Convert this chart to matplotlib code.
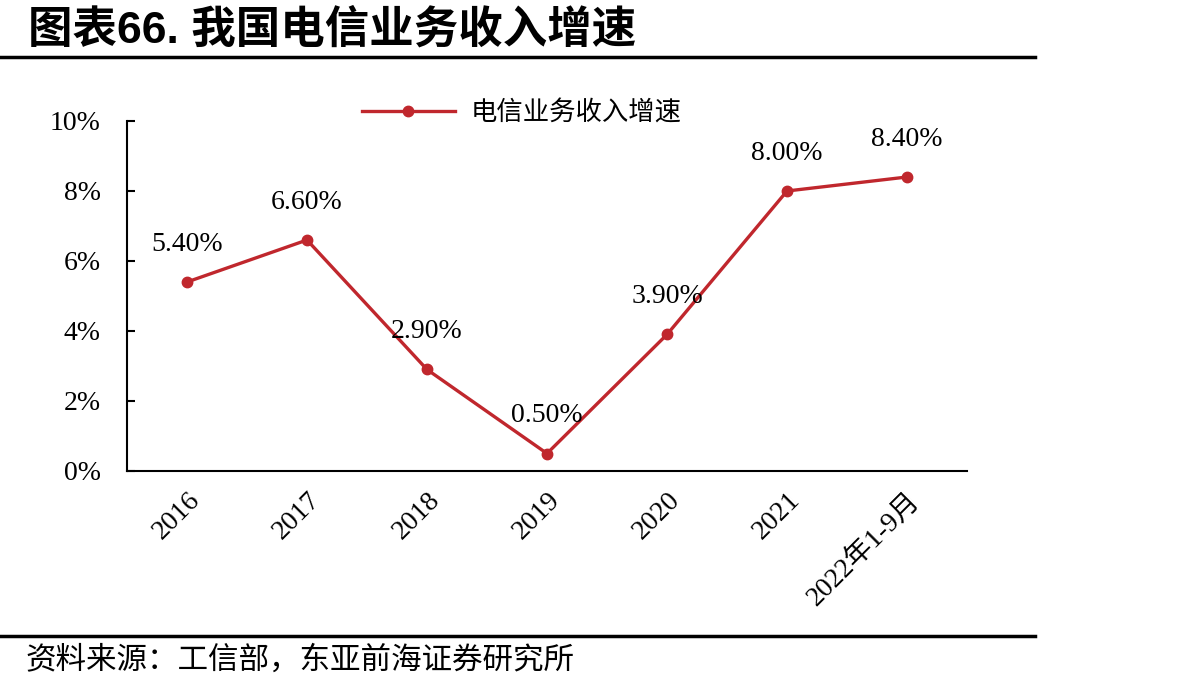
import matplotlib
matplotlib.use("Agg")
import matplotlib.pyplot as plt

categories = ['2016', '2017', '2018', '2019', '2020', '2021', '2022年1-9月']
growth = [5.4, 6.6, 2.9, 0.5, 3.9, 8.0, 8.4]
labels = ['5.40%', '6.60%', '2.90%', '0.50%', '3.90%', '8.00%', '8.40%']
yticks = [0, 2, 4, 6, 8, 10]

red = '#C0272D'
serif = ['Liberation Serif', 'Noto Sans CJK SC']

fig = plt.figure(figsize=(11.92, 6.9), dpi=100)
ax = fig.add_axes([127 / 1192, 1 - 471 / 690, 840 / 1192, 350 / 690])

x = list(range(len(categories)))
ax.plot(x, growth, color=red, lw=2.4, marker='o', ms=7.5, label='电信业务收入增速')
for xi, yi, t in zip(x, growth, labels):
    ax.annotate(t, (xi, yi), xytext=(0, 27), textcoords='offset points',
                ha='center', va='center', fontsize=20, family=serif)

ax.set_xlim(-0.5, 6.5)
ax.set_ylim(0, 10)
ax.set_yticks(yticks)
ax.set_yticklabels([f'{v}%' for v in yticks], family=serif, fontsize=20)
ax.set_xticks(x)
ax.set_xticklabels(categories, family=serif, fontsize=20, rotation=45,
                   ha='right', rotation_mode='anchor')
ax.tick_params(axis='x', length=0, pad=12)
ax.tick_params(axis='y', length=6, width=1.5, direction='in', pad=19)
for s in ['top', 'right']:
    ax.spines[s].set_visible(False)
for s in ['left', 'bottom']:
    ax.spines[s].set_linewidth(1.5)

leg = ax.legend(loc='upper center', bbox_to_anchor=(0.47, 1.13), frameon=False,
                handlelength=3.5, handletextpad=0.6,
                prop={'family': ['Noto Sans CJK SC'], 'size': 19})

# title and source
fig.text(28 / 1192, 1 - 30 / 690, '图表66. 我国电信业务收入增速', fontsize=32, fontweight='bold',
         family=['Liberation Sans', 'Noto Sans CJK SC'], va='center', ha='left')
fig.add_artist(plt.Line2D([0, 1035 / 1192], [1 - 57 / 690] * 2, color='black', lw=2.5))
fig.add_artist(plt.Line2D([0, 1035 / 1192], [1 - 636 / 690] * 2, color='black', lw=2.5))
fig.text(25 / 1192, 1 - 660 / 690, '资料来源：工信部，东亚前海证券研究所', fontsize=22,
         family=['Noto Sans CJK SC'], va='center', ha='left')

fig.savefig('out.png', dpi=100)
